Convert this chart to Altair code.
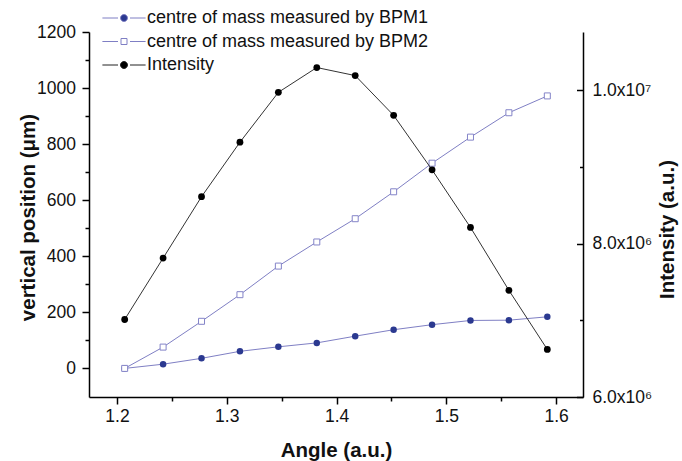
import altair as alt
import pandas as pd

# ---------------- data ----------------
angle = [1.207, 1.242, 1.277, 1.312, 1.347, 1.382, 1.417, 1.452, 1.487, 1.522, 1.557, 1.592]
bpm1 = [0, 15, 36, 61, 77, 91, 115, 138, 156, 171, 172, 184]
bpm2 = [0, 76, 168, 263, 365, 451, 534, 630, 732, 825, 912, 972]
intensity = [7.01e6, 7.81e6, 8.61e6, 9.32e6, 9.97e6, 1.0293e7, 1.0188e7,
             9.67e6, 8.96e6, 8.21e6, 7.39e6, 6.62e6]

S1 = "centre of mass measured by BPM1"
S2 = "centre of mass measured by BPM2"
S3 = "Intensity"
series_names = [S1, S2, S3]

left_ticks = [0, 100, 200, 300, 400, 500, 600, 700, 800, 900, 1000, 1100, 1200]
x_ticks = [1.2, 1.25, 1.3, 1.35, 1.4, 1.45, 1.5, 1.55, 1.6]
right_ticks = [6e6, 7e6, 8e6, 9e6, 1e7]

pos = pd.DataFrame({"angle": angle * 2, "pos": bpm1 + bpm2,
                    "series": [S1] * len(angle) + [S2] * len(angle)})
inten = pd.DataFrame({"angle": angle, "intensity": intensity, "series": [S3] * len(angle)})
leg = pd.DataFrame({"series": series_names})

# ---------------- style ----------------
FONT = "Liberation Sans"
NAVY = "#2b3990"
LAV = "#7f7fc4"
LAV2 = "#8484c8"
BLK = "#111111"
LEG_FS = 18

x_enc = alt.X(
    "angle:Q",
    scale=alt.Scale(domain=[1.1745, 1.6245], nice=False, zero=False),
    axis=alt.Axis(
        values=x_ticks,
        tickSize=alt.ExprRef("abs(datum.value*10 - round(datum.value*10)) < 0.01 ? 7 : 4"),
        labelExpr="abs(datum.value*10 - round(datum.value*10)) < 0.01 ? format(datum.value, '.1f') : ''",
        labelPadding=3,
        labelFlush=False,
        labelOverlap=False,
        title="Angle (a.u.)",
        titleX=247, titleY=59, titleAlign="center", titleBaseline="alphabetic",
    ),
)

y_left = alt.Y(
    "pos:Q",
    scale=alt.Scale(domain=[-102, 1200], nice=False, zero=False),
    axis=alt.Axis(
        orient="left",
        values=left_ticks,
        format="d",
        tickSize=alt.ExprRef("datum.value % 200 === 0 ? 7 : 4"),
        labelExpr="datum.value % 200 === 0 ? datum.label : ''",
        labelPadding=6.5,
        labelFlush=False,
        labelOverlap=False,
        title="vertical position (μm)",
        titleAngle=270, titleX=-55, titleY=185,
        titleAlign="center", titleBaseline="alphabetic",
    ),
)

y_right = alt.Y(
    "intensity:Q",
    scale=alt.Scale(domain=[6e6, 1.0756e7], nice=False, zero=False),
    axis=alt.Axis(
        orient="right",
        values=right_ticks,
        tickSize=alt.ExprRef("datum.value % 2000000 === 0 ? -6.5 : -3.5"),
        labelExpr="datum.value === 6000000 ? '6.0x10⁶' : datum.value === 8000000 ? '8.0x10⁶' : datum.value === 10000000 ? '1.0x10⁷' : ''",
        labelPadding=15.5,
        labelFlush=False,
        labelOverlap=False,
        title="Intensity (a.u.)",
        titleAngle=270, titleX=90, titleY=197,
        titleAlign="center", titleBaseline="alphabetic",
    ),
)

# ---------------- left-axis layers ----------------
base_pos = alt.Chart(pos)
pos_line = base_pos.mark_line(color=LAV, strokeWidth=1).encode(x=x_enc, y=y_left, detail="series:N")
bpm1_pts = base_pos.transform_filter(alt.datum.series == S1).mark_point(
    shape="circle", filled=True, color=NAVY, size=42, opacity=1
).encode(x=x_enc, y=y_left)
bpm2_pts = base_pos.transform_filter(alt.datum.series == S2).mark_point(
    shape="square", filled=False, fill="white", stroke=LAV2, strokeWidth=1, size=36, opacity=1
).encode(x=x_enc, y=y_left)
left_layer = alt.layer(pos_line, bpm1_pts, bpm2_pts)

# ---------------- right-axis layers ----------------
base_int = alt.Chart(inten)
int_line = base_int.mark_line(color="#333333", strokeWidth=1).encode(x=x_enc, y=y_right)
int_pts = base_int.mark_point(shape="circle", filled=True, color="#000000", size=46, opacity=1).encode(
    x=x_enc, y=y_right
)
right_layer = alt.layer(int_line, int_pts)

# ---------------- legend layer ----------------
P_CIRC = "M-3.6,0L-1,0M1,0L3.6,0M0.58,0A0.58,0.58,0,1,1,-0.58,0A0.58,0.58,0,1,1,0.58,0Z"
P_SQ = "M-3.6,0L-1,0M1,0L3.6,0M-0.5,-0.5L0.5,-0.5L0.5,0.5L-0.5,0.5Z"

LEG = alt.Legend(
    title=None, orient="none", legendX=26, legendY=-23, padding=0,
    symbolSize=144, symbolStrokeWidth=1, symbolOpacity=1,
    labelFont=FONT, labelFontSize=LEG_FS, labelColor=BLK, labelOffset=14,
    labelLimit=0, rowPadding=5.5,
)
legend_layer = alt.Chart(leg).mark_point(opacity=0, filled=True).encode(
    shape=alt.Shape("series:N", scale=alt.Scale(domain=series_names, range=[P_CIRC, P_SQ, P_CIRC]), legend=LEG),
    fill=alt.Fill("series:N", scale=alt.Scale(domain=series_names, range=[NAVY, "white", "#000000"]), legend=LEG),
    stroke=alt.Stroke("series:N", scale=alt.Scale(domain=series_names, range=[LAV, LAV, "#222222"]), legend=LEG),
)

chart = (
    alt.layer(left_layer, right_layer, legend_layer)
    .resolve_scale(y="independent")
    .properties(
        width=494, height=365,
        autosize=alt.AutoSizeParams(type="none"),
        padding={"left": 89, "top": 32, "right": 99, "bottom": 64},
        background="white",
    )
    .configure_view(stroke=None)
    .configure_axis(
        grid=False,
        domainColor="#000000", domainWidth=1.5,
        tickColor="#000000", tickWidth=1.5,
        labelFont=FONT, labelFontSize=17.5, labelColor=BLK,
        titleFont=FONT, titleFontSize=20.5, titleFontWeight="bold", titleColor=BLK,
    )
    .configure_legend(
        labelFont=FONT, labelFontSize=LEG_FS, labelColor=BLK, labelOffset=14,
        labelLimit=0, rowPadding=5.5, symbolSize=144, padding=0,
    )
)

chart.save("out.html", embed_options={"renderer": "svg", "actions": False})
